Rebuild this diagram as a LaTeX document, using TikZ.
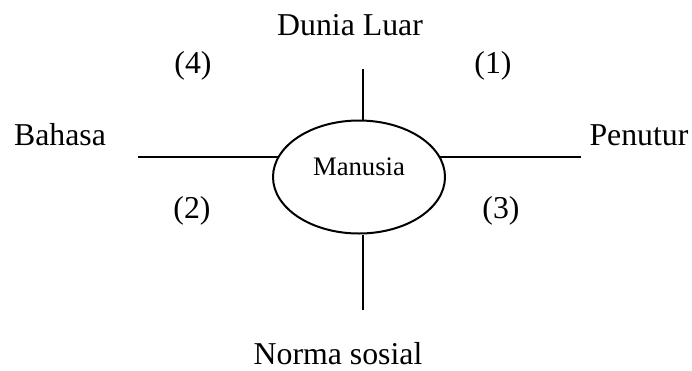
\documentclass[tikz,border=0pt]{standalone}
\usepackage{fontspec}
\setmainfont{Liberation Serif}
\usetikzlibrary{positioning,shapes.geometric}

\begin{document}
\begin{tikzpicture}[x=1pt,y=-1pt,line width=2pt,
  word/.style={anchor=base,inner sep=0pt,font=\fontsize{31.8}{38}\selectfont},
  small/.style={anchor=base,inner sep=0pt,font=\fontsize{26.7}{32}\selectfont}]
\useasboundingbox (0,0) rectangle (692,370);
\node[draw,ellipse,inner sep=0pt,minimum width=172pt,minimum height=113pt] (manusia) at (359,177) {};
\node[small] (manusialbl) at (359,175) {Manusia};
\node[word] (dunia) at (350,35) {Dunia Luar};
\node[word] (norma) at (338,364) {Norma sosial};
\node[word] (bahasa) at (60,145) {Bahasa};
\node[word] (penutur) at (639,145) {Penutur};
\node[word] (n4) at (193,73) {(4)};
\node[word] (n1) at (493,73) {(1)};
\node[word] (n2) at (192,218) {(2)};
\node[word] (n3) at (501,218) {(3)};
\coordinate (topend) at (363,69);
\coordinate (botend) at (363,310);
\coordinate (leftend) at (138,157);
\coordinate (rightend) at (581,157);
\draw (topend) -- (topend |- manusia.north);
\draw (botend) -- (botend |- manusia.south);
\draw (leftend) -- (leftend -| manusia.166);
\draw (rightend) -- (rightend -| manusia.14);
\end{tikzpicture}
\end{document}
